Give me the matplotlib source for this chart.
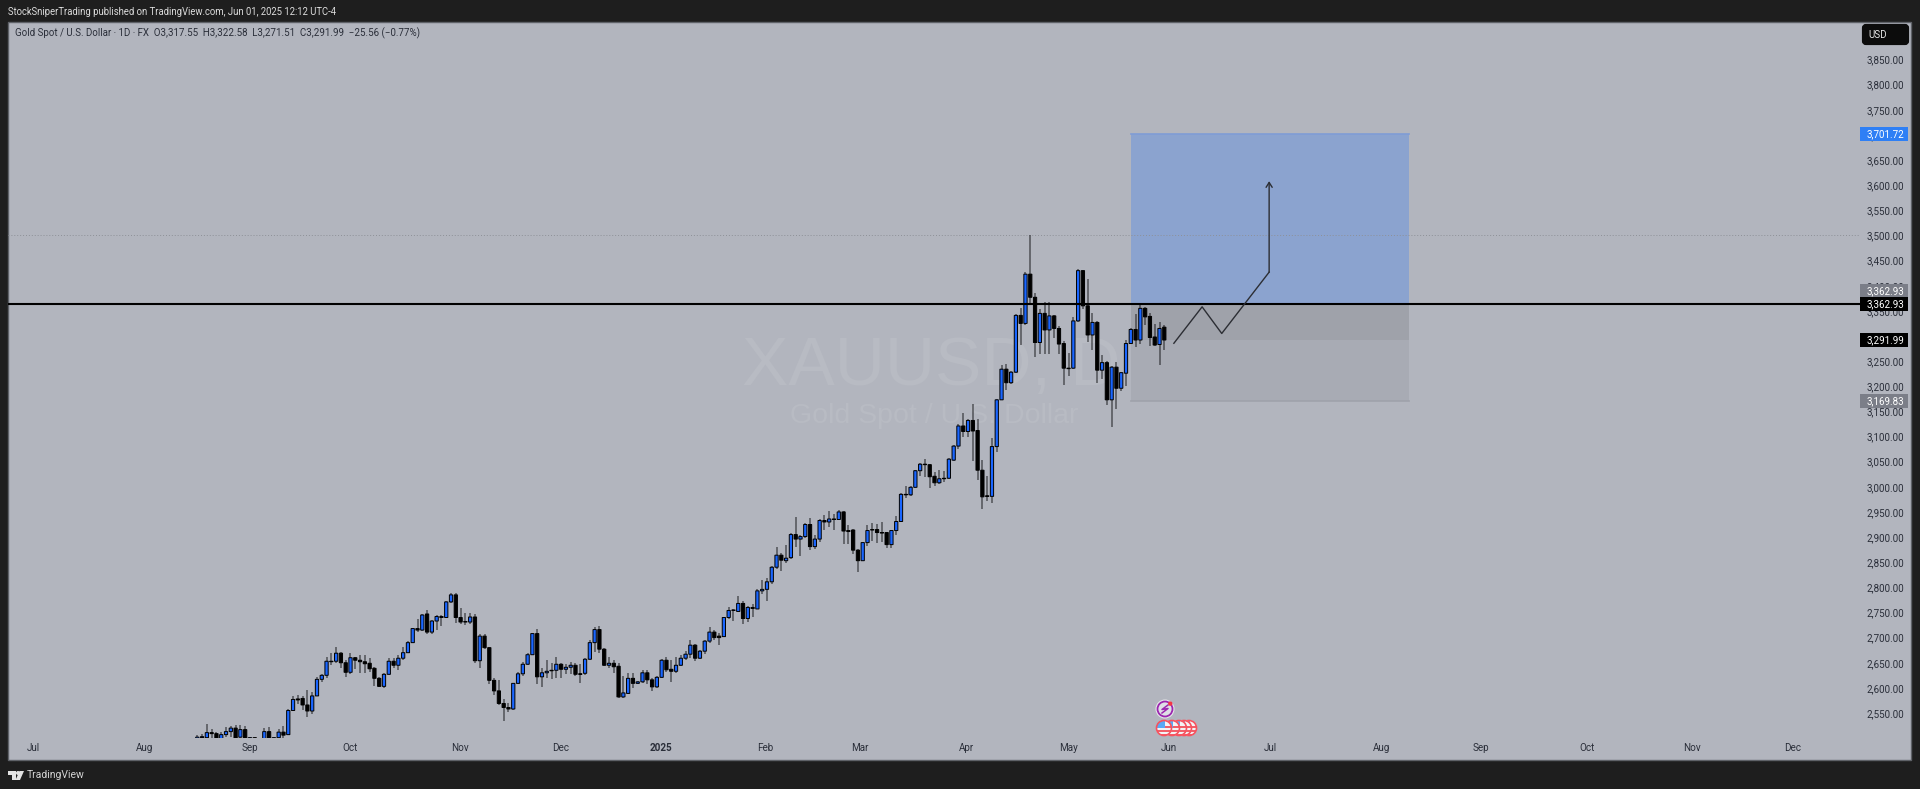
import matplotlib
matplotlib.use('Agg')
import matplotlib.pyplot as plt
from matplotlib.patches import Rectangle, Circle, Polygon, FancyBboxPatch
from matplotlib.lines import Line2D
from matplotlib.transforms import Affine2D

plt.rcParams['font.family'] = ['Roboto', 'DejaVu Sans']

# daily XAUUSD candles
opens = [2497,2501,2501,2511,2509,2497,2507,2513,2520,2502,2517,2495,2501,2497,2496,2513,2496,2501,2512,2507,
         2555,2578,2579,2566,2554,2584,2617,2625,2653,2653,2669,2650,2631,2660,2655,2652,2649,2639,2619,2603,
         2627,2653,2645,2659,2670,2690,2718,2715,2747,2711,2733,2742,2740,2771,2785,2740,2732,2731,2741,2654,
         2703,2680,2615,2594,2569,2561,2558,2609,2628,2647,2666,2708,2622,2630,2635,2635,2647,2637,2641,2645,
         2628,2629,2657,2690,
         2716,2677,2645,2649,2643,2582,2589,2619,2609,2612,2630,2616,2602,2621,2655,2637,2633,2645,2659,2667,
         2685,2659,2673,2693,2711,2703,2702,2740,2755,2752,2768,2738,2760,2757,
         2793,2796,2811,2840,2864,2853,2859,2905,2896,2901,2925,2881,2896,2933,2930,2936,2935,2950,2913,2914,
         2874,2853,2889,2915,2915,2909,2909,2885,2913,2931,2985,2984,2999,3032,3045,3044,3021,3008,3017,3017,
         3053,3081,3121,3110,3132,3112,3033,2982,2981,
         3080,3173,3234,3207,3228,3341,3325,3423,3377,3287,3345,3312,3340,3315,3285,3236,3236,3330,3430,3360,
         3302,3327,3232,3247,3173,3238,3196,3226,3285,3313,3292,3355,3339,3298,3283,3317.55]
highs = [2506,2508,2529,2518,2513,2512,2523,2525,2527,2527,2524,2503,2503,2498,2520,2523,2503,2518,2525,2557,
         2583,2585,2584,2596,2592,2622,2627,2661,2669,2682,2671,2655,2669,2662,2665,2666,2660,2642,2621,2630,
         2659,2659,2665,2682,2693,2719,2738,2746,2755,2735,2744,2744,2773,2789,2789,2759,2748,2748,2746,2707,
         2708,2682,2619,2616,2577,2570,2610,2631,2651,2670,2710,2718,2640,2655,2650,2662,2650,2648,2651,2650,
         2648,2659,2695,2722,
         2724,2679,2662,2655,2649,2624,2630,2630,2614,2636,2635,2620,2623,2657,2662,2655,2662,2666,2674,2695,
         2688,2676,2696,2722,2716,2710,2741,2760,2756,2783,2772,2762,2766,2797,
         2815,2818,2843,2880,2869,2884,2908,2940,2905,2928,2938,2905,2935,2943,2951,2946,2953,2951,2925,2917,
         2876,2891,2925,2927,2926,2929,2911,2915,2942,2987,3002,3002,3034,3048,3056,3046,3030,3033,3032,3057,
         3084,3124,3146,3135,3165,3134,3054,3022,3097,
         3175,3243,3245,3231,3343,3355,3428,3500,3385,3353,3368,3368,3342,3320,3290,3266,3338,3433,3432,3413,
         3346,3329,3263,3250,3241,3249,3229,3292,3316,3343,3364,3357,3345,3323,3328,3322.58]
lows = [2494,2495,2495,2495,2490,2490,2503,2503,2497,2497,2490,2488,2490,2471,2490,2490,2490,2494,2496,2507,
        2555,2568,2556,2543,2548,2583,2612,2620,2645,2650,2640,2622,2628,2638,2630,2629,2632,2603,2602,2600,
        2626,2640,2636,2655,2669,2689,2711,2714,2707,2708,2715,2723,2739,2769,2730,2727,2725,2727,2650,2640,
        2678,2608,2585,2565,2534,2552,2556,2607,2623,2646,2665,2608,2602,2620,2618,2620,2620,2628,2628,2624,
        2610,2625,2655,2672,
        2670,2643,2640,2630,2580,2580,2587,2600,2608,2610,2608,2594,2600,2620,2632,2612,2630,2643,2655,2660,
        2654,2657,2668,2689,2695,2685,2701,2738,2733,2750,2727,2732,2741,2756,
        2787,2773,2806,2837,2832,2848,2856,2880,2863,2899,2875,2877,2890,2915,2921,2915,2933,2886,2887,2867,
        2831,2852,2882,2892,2889,2890,2879,2879,2905,2929,2977,2981,2997,3022,3020,2997,3001,3005,3009,3016,
        3052,3076,3100,3100,3052,3014,2955,2972,2968,
        3070,3172,3192,3205,3226,3282,3322,3366,3258,3264,3264,3264,3296,3265,3202,3221,3234,3327,3354,3288,
        3273,3206,3214,3163,3118,3154,3190,3200,3284,3278,3284,3321,3281,3280,3243,3271.51]
closes = [2502,2503,2511,2509,2499,2507,2513,2520,2500,2517,2499,2501,2497,2492,2513,2496,2501,2512,2506,2555,
          2577,2576,2566,2554,2584,2617,2625,2653,2652,2669,2650,2631,2660,2655,2652,2648,2638,2619,2603,2627,
          2653,2645,2659,2670,2690,2718,2715,2745,2711,2733,2742,2740,2771,2785,2740,2731,2731,2741,2654,2703,
          2680,2615,2594,2569,2561,2558,2609,2628,2647,2666,2708,2622,2630,2633,2634,2647,2637,2641,2645,2627,
          2627,2657,2690,2716,
          2677,2645,2649,2642,2582,2590,2619,2609,2612,2630,2616,2602,2621,2655,2636,2633,2645,2659,2667,2685,
          2659,2673,2693,2711,2700,2700,2740,2754,2754,2768,2738,2760,2758,2793,
          2796,2811,2840,2864,2854,2858,2905,2896,2901,2925,2881,2896,2933,2930,2936,2935,2950,2912,2911,2874,
          2853,2889,2913,2914,2909,2908,2885,2913,2931,2985,2984,2999,3032,3045,3044,3020,3008,3016,3016,3055,
          3081,3121,3110,3132,3111,3033,2980,2981,3080,
          3173,3234,3207,3228,3341,3325,3423,3377,3287,3345,3312,3340,3315,3284,3236,3235,3330,3430,3360,3302,
          3327,3232,3247,3173,3238,3196,3227,3285,3313,3292,3355,3338,3297,3282,3315,3291.99]

month_pos = [-34.2,-11.1,10.9,31.9,54.9,76,96.9,118.6,138.4,160.6,181.9,203,224.1,247.3,268.2,290.3,312.3,333.2]
month_labels = ['Jul','Aug','Sep','Oct','Nov','Dec','2025','Feb','Mar','Apr','May','Jun','Jul','Aug','Sep','Oct','Nov','Dec']
price_ticks = list(range(2550, 3851, 50))

target = 3701.72
resistance = 3362.93
last_close = 3291.99
stop = 3169.83
path_x = [204, 209.9, 214, 223.9, 223.9]
path_y = [3285.5, 3358, 3305, 3427, 3608]

W, H = 1920, 789
BG = '#1e1e1e'
PANEL = '#b2b5be'
FS = 7.1
px = Affine2D().scale(1, -1).translate(0, H)  # picture pixels, y down

fig = plt.figure(figsize=(W / 100, H / 100), dpi=100, facecolor=BG)
fig.add_artist(Rectangle((8, 22), 1903, 738, transform=px, facecolor=PANEL, edgecolor='#5f6268', lw=1, zorder=-1))

ax = fig.add_axes([8 / W, 1 - 738 / H, 1852 / W, 716 / H], facecolor='none')
bar_px = 967 / (len(opens) - 1)
ax.set_xlim((8 - 197.3) / bar_px, (1860 - 197.3) / bar_px)
ax.set_ylim(2500.3, 3924.6)
for s in ax.spines.values():
    s.set_visible(False)

# watermark
ax.text(931, 385, 'XAUUSD, D', transform=px, ha='center', va='baseline', fontsize=50,
        family='Liberation Sans', color='#b8bbc3', zorder=0)
ax.text(934, 423, 'Gold Spot / U.S. Dollar', transform=px, ha='center', va='baseline', fontsize=20.5,
        family='Liberation Sans', color='#b8bbc3', zorder=0)

# position tool
ax.add_patch(Rectangle((195, resistance), 58.1, target - resistance, facecolor='#8ba3cf', edgecolor='none', zorder=1))
ax.add_patch(Rectangle((195, last_close), 58.1, resistance - last_close, facecolor='#9fa2aa', edgecolor='none', zorder=1))
ax.add_patch(Rectangle((195, stop), 58.1, last_close - stop, facecolor='#a8abb4', edgecolor='none', zorder=1))
ax.plot([195, 253.1], [target, target], color='#7f9cd6', lw=1.2, zorder=1.2)
ax.plot([195, 253.1], [stop, stop], color='#9fa2ab', lw=1.2, zorder=1.2)

ax.axhline(3500, color='#8d9097', lw=0.7, ls=(0, (1, 2)), zorder=1.5)
ax.axhline(resistance + 2, color='#c6c8ce', lw=0.7, zorder=1.6)
ax.axhline(resistance, color='black', lw=1.5, zorder=4)

# candles
xs = list(range(len(opens)))
ax.vlines(xs, lows, highs, color='#1c1c1f', lw=1.1, alpha=0.65, zorder=2)
ups = [i for i in xs if closes[i] >= opens[i]]
downs = [i for i in xs if closes[i] < opens[i]]
up_bars = ax.bar(ups, [closes[i] - opens[i] for i in ups], bottom=[opens[i] for i in ups], width=0.68,
                 color='#1a66ff', edgecolor='black', lw=0.7, zorder=3)
down_bars = ax.bar(downs, [closes[i] - opens[i] for i in downs], bottom=[opens[i] for i in downs], width=0.68,
                   color='black', edgecolor='black', lw=0.7, zorder=3)
for b in list(up_bars) + list(down_bars):
    b.set_snap(False)

# drawn path
ax.plot(path_x[:-1], path_y[:-1], color='#2c2e34', lw=1.0, zorder=5)
ax.annotate('', xy=(path_x[-1], path_y[-1]), xytext=(path_x[-2], path_y[-2]),
            arrowprops=dict(arrowstyle='->,head_length=0.35,head_width=0.22', color='#2c2e34', lw=1.0,
                            shrinkA=0, shrinkB=0), zorder=5)

# axes labels
ax.yaxis.tick_right()
ax.set_yticks(price_ticks)
ax.set_yticklabels([f'{p:,.2f}' for p in price_ticks], fontsize=FS, color='#2a2e39', ha='right')
ax.tick_params(axis='y', length=0, pad=31.7)
ax.set_xticks(month_pos)
ax.set_xticklabels(month_labels, fontsize=FS, color='#2a2e39')
ax.tick_params(axis='x', length=0, pad=3.5)
ax.get_xticklabels()[6].set_fontweight('bold')


def label(x, y, s, **kw):
    fig.text(x, y, s, transform=px, va='center', **kw)


def tag(price, s, color, dy=0):
    y = H - ax.transData.transform((0, price))[1] + dy
    fig.add_artist(Rectangle((1860, y - 7), 48, 14, transform=px, facecolor=color, edgecolor='none', zorder=2))
    label(1904, y, s, ha='right', fontsize=FS, color='white', zorder=3)


tag(target, '3,701.72', '#2e7ff5')
tag(stop, '3,169.83', '#7b7e88')
tag(resistance, '3,362.93', '#7b7e88', dy=-13)
tag(resistance, '3,362.93', 'black')
tag(last_close, '3,291.99', 'black')

# currency box
fig.add_artist(FancyBboxPatch((1864, 26), 43, 17, boxstyle='round,pad=0,rounding_size=2', transform=px,
                              facecolor='#0c0c0c', edgecolor='#0c0c0c', lw=3, zorder=2))
label(1878, 35, 'USD', ha='center', fontsize=FS, color='#e6e6e6', zorder=3)

# header
label(8, 12, 'StockSniperTrading published on TradingView.com, Jun 01, 2025 12:12 UTC-4',
      ha='left', fontsize=6.85, color='#dcdcdc')
label(15, 33, 'Gold Spot / U.S. Dollar · 1D · FX  O3,317.55  H3,322.58  L3,271.51  C3,291.99  −25.56 (−0.77%)',
      ha='left', fontsize=7.05, color='#2a2e39')

# event icons
fig.add_artist(Circle((1165, 709), 9.5, transform=px, facecolor='#e6e6ea', edgecolor='none', zorder=2))
fig.add_artist(Circle((1165, 709), 7.5, transform=px, facecolor='#dfe0e6', edgecolor='#9c27b0', lw=1.3, zorder=2.1))
fig.add_artist(Line2D([1168, 1162, 1168, 1162], [705, 709.5, 708.5, 713], transform=px, color='#9c27b0', lw=1.1, zorder=2.2))
fig.add_artist(Circle((1170.3, 703.6), 2.2, transform=px, facecolor='#f23645', edgecolor='none', zorder=2.3))
flag_x = [1189, 1184, 1179, 1172, 1164]
for n, fx in enumerate(flag_x):
    z = 2 + n * 0.1
    back = Circle((fx, 728), 8, transform=px, facecolor='#f4f4f6', edgecolor='none', zorder=z)
    fig.add_artist(back)
    for sy in (725.5, 729.5, 733.5):
        st = Rectangle((fx - 8, sy), 16, 2, transform=px, facecolor='#f0606a', edgecolor='none', zorder=z + 0.01)
        fig.add_artist(st)
        st.set_clip_path(back)
    can = Rectangle((fx - 8, 720), 9, 7.5, transform=px, facecolor='#5aa9f5', edgecolor='none', zorder=z + 0.02)
    fig.add_artist(can)
    can.set_clip_path(back)
    fig.add_artist(Circle((fx, 728), 7.5, transform=px, facecolor='none', edgecolor='#f7525f', lw=1.2, zorder=z + 0.03))

# logo
LOGO = '#e3e3e3'
fig.add_artist(Polygon([(8, 771), (15.5, 771), (15.5, 780), (11.5, 780), (11.5, 775), (8, 775)], transform=px,
                       facecolor=LOGO, edgecolor='none'))
fig.add_artist(Circle((18, 773), 2, transform=px, facecolor=LOGO, edgecolor='none'))
fig.add_artist(Polygon([(19.5, 771), (24, 771), (20, 780), (15.5, 780)], transform=px, facecolor=LOGO, edgecolor='none'))
label(27, 775, 'TradingView', ha='left', fontsize=7.5, color='#d4d4d4')

fig.savefig('out.png', dpi=100, facecolor=BG)
